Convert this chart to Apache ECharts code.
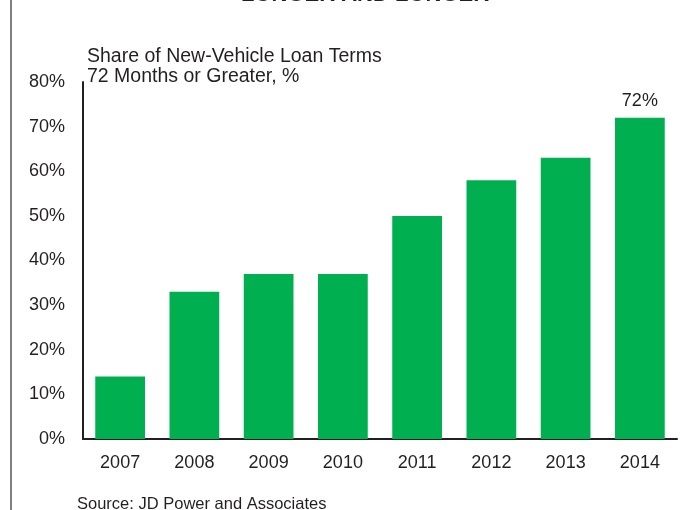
<!DOCTYPE html>
<html>
<head>
<meta charset="utf-8">
<script src="https://cdn.jsdelivr.net/npm/echarts@6/dist/echarts.min.js"></script>
<style>
html,body{margin:0;padding:0;background:#fff;}
#chart{width:691px;height:510px;}
</style>
</head>
<body>
<div id="chart"></div>
<script>
var categories = ['2007','2008','2009','2010','2011','2012','2013','2014'];
var shareValues = [14, 33, 37, 37, 50, 58, 63, 72];
var labelledIndex = 7;
var titleText = 'LONGER AND LONGER';
var subtitleLines = ['Share of New-Vehicle Loan Terms', '72 Months or Greater, %'];
var sourceText = 'Source: JD Power and Associates';

var font = 'Liberation Sans, Arial, sans-serif';
var chart = echarts.init(document.getElementById('chart'), null, {renderer:'canvas'});
chart.setOption({
  animation: false,
  backgroundColor: '#fff',
  grid: {left: 83, right: 14, top: 82, bottom: 71},
  xAxis: {
    type: 'category',
    data: categories,
    axisLine: {lineStyle: {color: '#231f20', width: 2}},
    axisTick: {show: false},
    axisLabel: {color: '#231f20', fontSize: 18, fontFamily: font, margin: 15}
  },
  yAxis: {
    type: 'value',
    min: 0, max: 80, interval: 10,
    axisLine: {show: true, lineStyle: {color: '#231f20', width: 2}},
    axisTick: {show: false},
    splitLine: {show: false},
    axisLabel: {color: '#231f20', fontSize: 18, fontFamily: font, margin: 18, formatter: '{value}%'}
  },
  series: [{
    type: 'bar',
    data: shareValues.map(function(v, i){
      return i === labelledIndex ? {value: v, label: {show: true}} : v;
    }),
    barWidth: '67%',
    itemStyle: {color: '#00b050'},
    label: {show: false, position: 'top', distance: 8, color: '#231f20', fontSize: 18, fontFamily: font, formatter: '{c}%'}
  }],
  graphic: [
    {type: 'line', shape: {x1: 11, y1: 0, x2: 11, y2: 510}, style: {stroke: '#555', lineWidth: 1.5}},
    {type: 'text', x: 365, y: 6, style: {text: titleText, font: 'bold 22px ' + font, fill: '#231f20', textAlign: 'center', textVerticalAlign: 'bottom'}},
    {type: 'text', left: 87, top: 47, style: {text: subtitleLines.join('\n'), font: '19.5px ' + font, fill: '#231f20', lineHeight: 20}},
    {type: 'text', left: 77, top: 496, style: {text: sourceText, font: '16.5px ' + font, fill: '#231f20'}}
  ]
});
</script>
</body>
</html>
